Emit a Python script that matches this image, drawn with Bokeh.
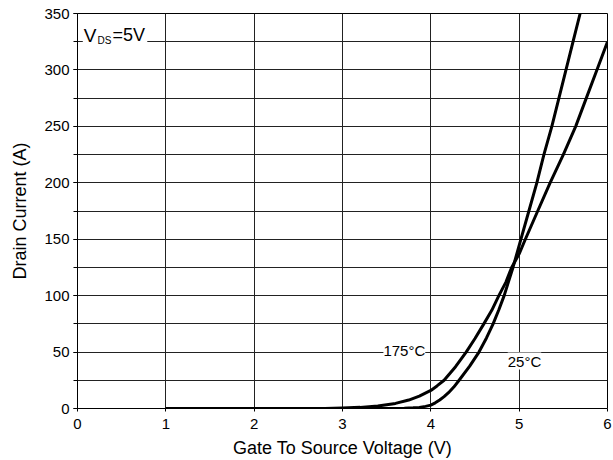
from bokeh.plotting import figure
from bokeh.models import SingleIntervalTicker, Label, BoxAnnotation
from bokeh.embed import file_html
from bokeh.resources import INLINE

# Data
vgs_25 = [1.0, 3.0, 3.5, 3.7, 3.8, 3.87, 3.94, 4.0, 4.05, 4.1, 4.15, 4.2, 4.26,
          4.32, 4.44, 4.545, 4.63, 4.705, 4.77, 4.83, 4.93, 5.02, 5.11, 5.20,
          5.28, 5.37, 5.45, 5.53, 5.61, 5.69, 5.73]
id_25 = [0, 0, 0.05, 0.3, 0.6, 1, 1.9, 3, 5, 7.5, 10.5, 14, 19,
         25, 37.5, 50, 62.5, 75, 87.5, 100, 125, 150, 175, 200,
         225, 250, 275, 300, 325, 350, 362]

vgs_175 = [1.0, 2.8, 3.0, 3.2, 3.4, 3.6, 3.75, 3.87, 4.0, 4.07, 4.15, 4.28,
           4.40, 4.50, 4.60, 4.69, 4.77, 4.85, 4.915, 5.0, 5.07, 5.21, 5.35,
           5.50, 5.64, 5.76, 5.88, 6.0]
id_175 = [0, 0.1, 0.4, 1.0, 2.3, 4.5, 7.5, 11, 16, 20, 25, 37,
          50, 62, 75, 87, 100, 112, 125, 137, 150, 175, 200,
          225, 250, 275, 300, 325]

x_label = "Gate To Source Voltage (V)"
y_label = "Drain Current (A)"
label_25 = "25°C"
label_175 = "175°C"

FONT = "Liberation Sans"

p = figure(width=613, height=460, x_range=(0, 6), y_range=(0, 350),
           output_backend="svg", toolbar_location=None,
           min_border_left=77, min_border_right=6, min_border_top=13,
           min_border_bottom=52)
p.background_fill_color = "white"
p.border_fill_color = "white"
p.outline_line_color = "black"
p.outline_line_width = 1

p.xaxis.ticker = SingleIntervalTicker(interval=1, num_minor_ticks=0)
p.yaxis.ticker = SingleIntervalTicker(interval=50, num_minor_ticks=2)

for ax in (p.xaxis, p.yaxis):
    ax.axis_line_color = None
    ax.major_tick_line_color = "black"
    ax.minor_tick_line_color = "black"
    ax.major_tick_in = 0
    ax.minor_tick_in = 0
    ax.major_label_text_font = FONT
    ax.major_label_text_font_size = "15px"
    ax.major_label_text_color = "black"
    ax.axis_label_text_font = FONT
    ax.axis_label_text_font_size = "18px"
    ax.axis_label_text_font_style = "normal"
    ax.axis_label_text_color = "black"

p.xaxis.major_tick_out = 3
p.xaxis.minor_tick_out = 0
p.xaxis.major_label_standoff = 7
p.xaxis.axis_label = x_label
p.xaxis.axis_label_standoff = 6

p.yaxis.major_tick_out = 4
p.yaxis.minor_tick_out = 4
p.yaxis.major_label_standoff = 4
p.yaxis.axis_label = y_label
p.yaxis.axis_label_standoff = 11

p.xgrid.grid_line_color = "#222222"
p.xgrid.grid_line_width = 1
p.ygrid.grid_line_color = "#222222"
p.ygrid.grid_line_width = 1
p.ygrid.minor_grid_line_color = "#222222"
p.ygrid.minor_grid_line_width = 1

p.line(vgs_175, id_175, line_color="black", line_width=3, line_join="round")
p.line(vgs_25, id_25, line_color="black", line_width=3, line_join="round")

# VDS annotation box
p.add_layout(BoxAnnotation(left=0.06, right=0.79, bottom=322.5, top=348.5,
                           fill_color="white", fill_alpha=1.0, line_color=None))
p.add_layout(Label(x=0.07, y=330.8, text="V", text_font=FONT,
                   text_font_size="19px", text_color="black",
                   text_baseline="alphabetic", text_align="left"))
p.add_layout(Label(x=0.226, y=326.3, text="DS", text_font=FONT,
                   text_font_size="10px", text_color="black",
                   text_baseline="alphabetic", text_align="left"))
p.add_layout(Label(x=0.396, y=330.8, text="=5V", text_font=FONT,
                   text_font_size="18px", text_color="black",
                   text_baseline="alphabetic", text_align="left"))

# Temperature labels
p.add_layout(Label(x=3.70, y=51.5, text=label_175, text_font=FONT,
                   text_font_size="15px", text_color="black",
                   text_baseline="middle", text_align="center",
                   background_fill_color="white", background_fill_alpha=1.0))
p.add_layout(Label(x=5.06, y=42, text=label_25, text_font=FONT,
                   text_font_size="15px", text_color="black",
                   text_baseline="middle", text_align="center",
                   background_fill_color="white", background_fill_alpha=1.0))

open("out.html", "w").write(file_html(p, INLINE))
